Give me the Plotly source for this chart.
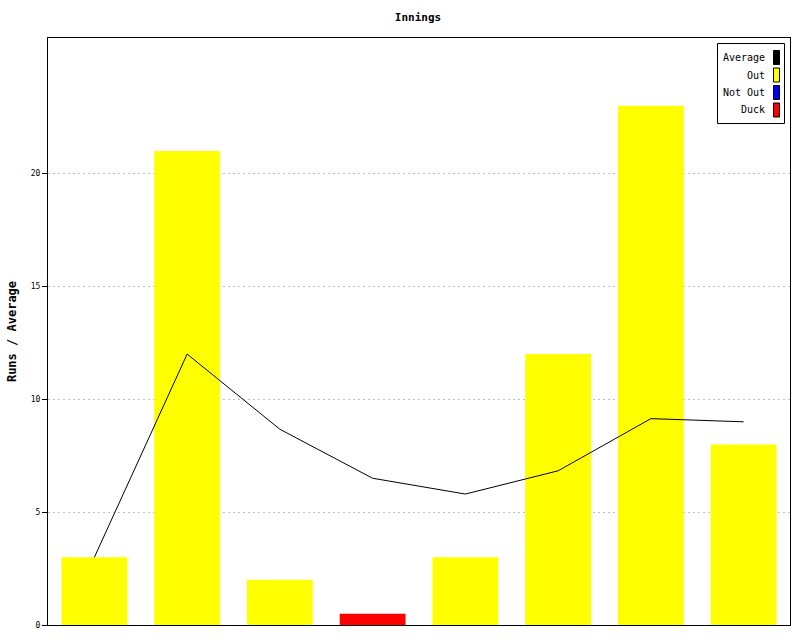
import plotly.graph_objects as go

innings = [1, 2, 3, 4, 5, 6, 7, 8]
out_runs = [3, 21, 2, None, 3, 12, 23, 8]
not_out_runs = [None] * 8
duck_runs = [None, None, None, 0.5, None, None, None, None]
average = [3, 12, 8.67, 6.5, 5.8, 6.83, 9.14, 9.0]
y_ticks = [0, 5, 10, 15, 20]
legend_items = [("Average", "#000000"), ("Out", "#ffff00"), ("Not Out", "#0000ff"), ("Duck", "#ff0000")]

mono = "DejaVu Sans Mono"
fig = go.Figure()
fig.add_trace(go.Bar(x=innings, y=out_runs, name="Out", marker=dict(color="#ffff00", line=dict(width=0)), width=0.71, showlegend=False))
fig.add_trace(go.Bar(x=innings, y=not_out_runs, name="Not Out", marker=dict(color="#0000ff", line=dict(width=0)), width=0.71, showlegend=False))
fig.add_trace(go.Bar(x=innings, y=duck_runs, name="Duck", marker=dict(color="#ff0000", line=dict(width=0)), width=0.71, showlegend=False))
fig.add_trace(go.Scatter(x=innings, y=average, name="Average", mode="lines", line=dict(color="#000000", width=1), showlegend=False))

def px(x):
    return (x - 48) / 742

def py(y):
    return (625 - y) / 587

# custom legend (text left of swatch)
shapes = [dict(type="rect", xref="paper", yref="paper", x0=px(717.5), x1=px(784.5),
               y0=py(123.5), y1=py(43.5), line=dict(color="black", width=1), fillcolor="white", layer="above")]
annotations = []
for i, (name, col) in enumerate(legend_items):
    yc = 57.5 + i * 17.5
    annotations.append(dict(xref="paper", yref="paper", x=px(767), y=py(yc), text=name,
                            showarrow=False, xanchor="right", yanchor="middle", xshift=0,
                            font=dict(family=mono, size=10, color="black")))
    shapes.append(dict(type="rect", xref="paper", yref="paper", x0=px(773.5), x1=px(779.5),
                       y0=py(yc + 7), y1=py(yc - 7), line=dict(color="black", width=1), fillcolor=col, layer="above"))

fig.update_layout(
    width=800, height=640,
    margin=dict(l=48, r=10, t=38, b=15, autoexpand=False),
    paper_bgcolor="white", plot_bgcolor="white",
    barmode="overlay",
    title=dict(text="<b>Innings</b>", x=0.5225, xanchor="center", y=1 - 17/640, yanchor="middle",
               font=dict(family=mono, size=11, color="black")),
    xaxis=dict(range=[0.5, 8.5], showticklabels=False, ticks="", showgrid=False, zeroline=False,
               showline=True, linecolor="black", linewidth=1, mirror=True, automargin=False),
    yaxis=dict(range=[0, 26], tickvals=y_ticks, ticks="outside", ticklen=5, tickcolor="black",
               tickfont=dict(family=mono, size=8, color="black"), automargin=False,
               showgrid=True, gridcolor="#bfbfbf", griddash="2px,3px", gridwidth=1, zeroline=False,
               showline=True, linecolor="black", linewidth=1, mirror=True,
               title=dict(text="<b>Runs / Average</b>", font=dict(family=mono, size=12, color="black"), standoff=11)),
    shapes=shapes, annotations=annotations,
)
fig.write_html("out.html", config={"displayModeBar": False},
               post_script="document.body.style.margin='0';document.body.style.overflow='hidden';")
